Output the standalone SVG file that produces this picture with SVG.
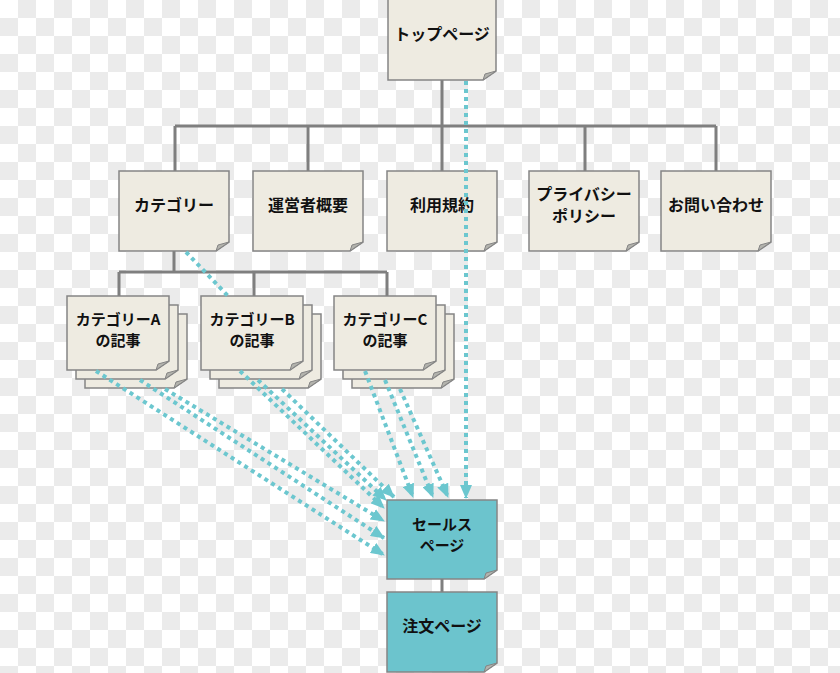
<svg xmlns="http://www.w3.org/2000/svg" width="840" height="673" viewBox="0 0 840 673">
<defs>
<pattern id="chk" x="0" y="0" width="36" height="36" patternUnits="userSpaceOnUse">
<rect width="36" height="36" fill="#ffffff"/>
<rect x="18" y="0" width="18" height="18" fill="#ebebeb"/>
<rect x="0" y="18" width="18" height="18" fill="#ebebeb"/>
</pattern>
<marker id="ah" markerUnits="userSpaceOnUse" markerWidth="14" markerHeight="12" refX="13" refY="6" orient="auto">
<path d="M0,0 L14,6 L0,12 Z" fill="#6cc7cf"/>
</marker>
<style>
.note{fill:#eeebe1;stroke:#858585;stroke-width:1.5}
.sale{fill:#6cc4cd;stroke:#858585;stroke-width:1.5}
.fold{fill:#b3b3ad;stroke:#858585;stroke-width:1}
.tree{fill:none;stroke:#7f7f7f;stroke-width:3}
.dot{fill:none;stroke:#6cc7cf;stroke-width:4;stroke-dasharray:4 4}
text{font-family:"Noto Sans CJK JP","Noto Sans",sans-serif;font-size:16px;font-weight:bold;fill:#111;text-anchor:middle}
.sm{font-size:15px}
</style>
</defs>
<rect width="840" height="673" fill="url(#chk)"/>
<g id="tree-connectors">
<path class="tree" d="M442,80 V126 M175,126 H716 M175,126 V171 M308,126 V171 M442,126 V171 M585,126 V171 M716,126 V171"/>
<path class="tree" d="M174,251 V272 M119,272 H387 M119,272 V296 M254,272 V296 M387,272 V296"/>
<path class="tree" d="M442,579 V592"/>
</g>
<g id="top"><path class="note" d="M388,-1 H496 V71 L483,80 H388 Z"/><path class="fold" d="M496,71 L483,80 L485,74 Z"/><text x="442" y="40">トップページ</text></g>
<g id="category"><path class="note" d="M119,171 H229 V242 L216,251 H119 Z"/><path class="fold" d="M229,242 L216,251 L218,245 Z"/><text x="174" y="211">カテゴリー</text></g>
<g id="company"><path class="note" d="M253,171 H363 V242 L350,251 H253 Z"/><path class="fold" d="M363,242 L350,251 L352,245 Z"/><text x="308" y="211">運営者概要</text></g>
<g id="terms"><path class="note" d="M387,171 H497 V242 L484,251 H387 Z"/><path class="fold" d="M497,242 L484,251 L486,245 Z"/><text x="442" y="211">利用規約</text></g>
<g id="privacy"><path class="note" d="M529,171 H639 V242 L626,251 H529 Z"/><path class="fold" d="M639,242 L626,251 L628,245 Z"/><text x="584" y="200">プライバシー</text><text x="584" y="222">ポリシー</text></g>
<g id="contact"><path class="note" d="M661,171 H771 V242 L758,251 H661 Z"/><path class="fold" d="M771,242 L758,251 L760,245 Z"/><text x="716" y="211">お問い合わせ</text></g>
<g id="catA">
<path class="note" d="M85,314 H187 V379 L174,388 H85 Z"/><path class="fold" d="M187,379 L174,388 L176,382 Z"/>
<path class="note" d="M76,305 H178 V370 L165,379 H76 Z"/><path class="fold" d="M178,370 L165,379 L167,373 Z"/>
<path class="note" d="M67,296 H169 V361 L156,370 H67 Z"/><path class="fold" d="M169,361 L156,370 L158,364 Z"/>
<text class="sm" x="118" y="325">カテゴリーA</text><text class="sm" x="118" y="346">の記事</text></g>
<g id="catB">
<path class="note" d="M219,314 H321 V379 L308,388 H219 Z"/><path class="fold" d="M321,379 L308,388 L310,382 Z"/>
<path class="note" d="M210,305 H312 V370 L299,379 H210 Z"/><path class="fold" d="M312,370 L299,379 L301,373 Z"/>
<path class="note" d="M201,296 H303 V361 L290,370 H201 Z"/><path class="fold" d="M303,361 L290,370 L292,364 Z"/>
<text class="sm" x="252" y="325">カテゴリーB</text><text class="sm" x="252" y="346">の記事</text></g>
<g id="catC">
<path class="note" d="M352,314 H454 V379 L441,388 H352 Z"/><path class="fold" d="M454,379 L441,388 L443,382 Z"/>
<path class="note" d="M343,305 H445 V370 L432,379 H343 Z"/><path class="fold" d="M445,370 L432,379 L434,373 Z"/>
<path class="note" d="M334,296 H436 V361 L423,370 H334 Z"/><path class="fold" d="M436,361 L423,370 L425,364 Z"/>
<text class="sm" x="385" y="325">カテゴリーC</text><text class="sm" x="385" y="346">の記事</text></g>
<g id="sales"><path class="sale" d="M387,500 H497 V570 L484,579 H387 Z"/><path class="fold" d="M497,570 L484,579 L486,573 Z"/><text class="sm" x="442" y="530">セールス</text><text class="sm" x="442" y="551">ページ</text></g>
<g id="order"><path class="sale" d="M387,592 H497 V663 L484,672 H387 Z"/><path class="fold" d="M497,663 L484,672 L486,666 Z"/><text x="442" y="632">注文ページ</text></g>
<g id="links">
<path class="dot" d="M466,81 V498" marker-end="url(#ah)"/>
<path class="dot" d="M186,252 L228,296"/>
<path class="dot" d="M96,371 L384,555" marker-end="url(#ah)"/>
<path class="dot" d="M140,380 L384,538" marker-end="url(#ah)"/>
<path class="dot" d="M165,389 L384,521" marker-end="url(#ah)"/>
<path class="dot" d="M240,371 L384,508" marker-end="url(#ah)"/>
<path class="dot" d="M258,380 L386,500" marker-end="url(#ah)"/>
<path class="dot" d="M282,389 L394,497" marker-end="url(#ah)"/>
<path class="dot" d="M365,371 L413,497" marker-end="url(#ah)"/>
<path class="dot" d="M385,380 L433,497" marker-end="url(#ah)"/>
<path class="dot" d="M400,389 L448,497" marker-end="url(#ah)"/>
</g>
</svg>
